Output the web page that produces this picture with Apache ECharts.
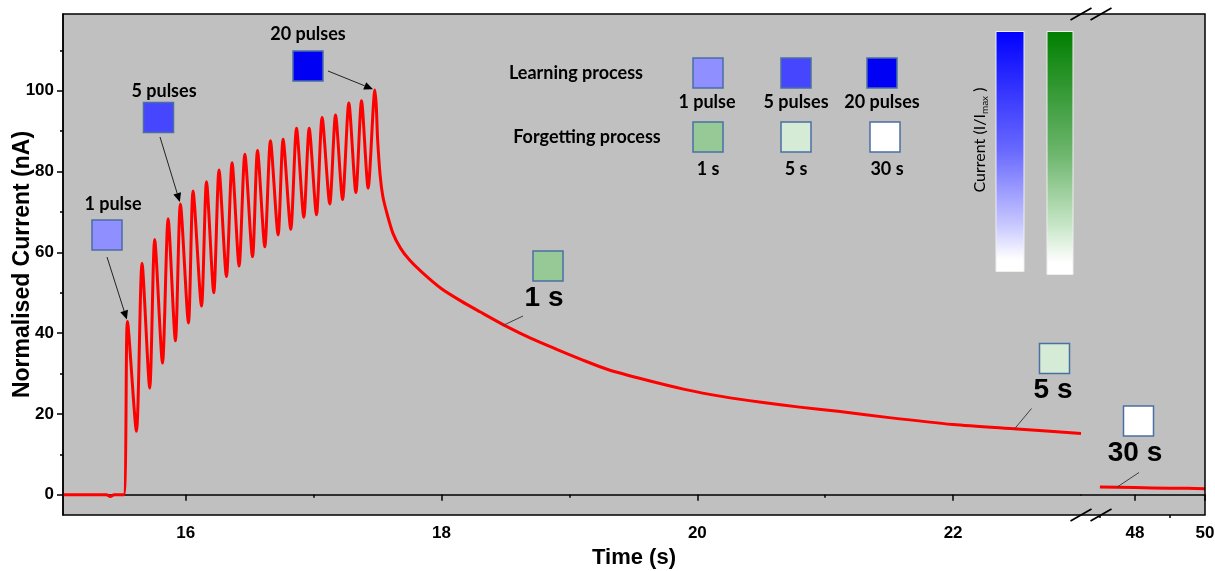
<!DOCTYPE html>
<html>
<head>
<meta charset="utf-8">
<script src="https://cdn.jsdelivr.net/npm/echarts@6/dist/echarts.min.js"></script>
<style>html,body{margin:0;padding:0;background:#fff}#c{width:1215px;height:571px}</style>
</head>
<body>
<div id="c"></div>
<script>
// ---------------- data ----------------
// learning phase: baseline, then 20 pulses (peak / trough alternation)
const learnTime = [15.04, 15.38, 15.41, 15.44, 15.515,
  15.544, 15.614, 15.658, 15.718, 15.757, 15.818, 15.862, 15.919, 15.958, 16.021,
  16.057, 16.123, 16.162, 16.219, 16.26, 16.318, 16.362, 16.417, 16.462, 16.522,
  16.561, 16.618, 16.662, 16.722, 16.761, 16.821, 16.866, 16.923, 16.965, 17.022,
  17.066, 17.126, 17.171, 17.226, 17.275, 17.33, 17.374, 17.426, 17.479];
const learnCurrent = [0, 0, -0.4, 0, 0,
  42.9, 15.7, 57.3, 26.4, 63.2, 32.6, 68.3, 38.1, 72.0, 42.5,
  75.2, 46.7, 77.5, 50.0, 80.4, 54.0, 82.2, 56.6, 84.3, 58.9,
  85.2, 61.4, 87.6, 64.3, 88.0, 65.7, 90.7, 68.7, 90.7, 69.3,
  93.4, 72.0, 94.0, 73.1, 97.0, 74.8, 97.5, 75.9, 100.2];
// forgetting phase (decay)
const decayTime = [17.49, 17.50, 17.52, 17.54, 17.57, 17.62, 17.68, 17.75, 17.85, 18.0,
  18.15, 18.3, 18.5, 18.7, 18.9, 19.1, 19.3, 19.6, 19.9, 20.2,
  20.5, 20.8, 21.1, 21.5, 22.0, 22.5, 23.0];
const decayCurrent = [96, 88, 79, 74, 70, 64.7, 61, 58.1, 55, 51,
  48, 45.3, 41.8, 38.7, 36.0, 33.4, 31.0, 28.4, 26.1, 24.3,
  22.9, 21.7, 20.7, 19.1, 17.4, 16.3, 15.2];
// late segment after the axis break
const lateTime = [47.0, 47.5, 48.0, 48.5, 49.0, 49.5, 50.0];
const lateCurrent = [1.9, 1.85, 1.8, 1.7, 1.65, 1.6, 1.5];

// ticks
const xTicksLeft = [16, 18, 20, 22];
const xMinorLeft = [17, 19, 21];
const xTicksRight = [48, 50];
const xMinorRight = [47, 49];
const yTicks = [0, 20, 40, 60, 80, 100];
const yMinor = [10, 30, 50, 70, 90, 110];

// annotation targets (time, current) on the curve
const pulseLabels = ['1 pulse', '5 pulses', '20 pulses'];
const pulseTargetTime = [15.544, 15.958, 17.479];
const pulseTargetCurrent = [42.9, 72.0, 100.2];
const forgetLabels = ['1 s', '5 s', '30 s'];
const forgetTargetTime = [18.48, 22.48, 47.48];
const forgetTargetCurrent = [41.9, 16.3, 1.85];

// legend
const learnLegend = ['1 pulse', '5 pulses', '20 pulses'];
const forgetLegend = ['1 s', '5 s', '30 s'];
const learnColors = ['#8f8fff', '#4646ff', '#0000f5'];
const forgetColors = ['#96c996', '#d5ebd5', '#ffffff'];

// ---------------- layout ----------------
const L = 63, T = 14, R = 1205, B = 515, BRK = 1081;
const FONT_AX = 'Liberation Sans, Arial, sans-serif';
const FONT_TX = 'Lato, "Open Sans", sans-serif';
const axisColor = '#000';

const chart = echarts.init(document.getElementById('c'), null, {renderer: 'canvas'});

function lineData(xs, ys) { return xs.map((x, i) => [x, ys[i]]); }

const tickLabel = {fontFamily: FONT_AX, fontWeight: 'bold', fontSize: 17, color: '#000', margin: 9};

chart.setOption({
  animation: false,
  backgroundColor: '#ffffff',
  grid: [
    {left: L, top: T, width: BRK - L, height: B - T, show: true, backgroundColor: '#c0c0c0', borderWidth: 0, containLabel: false, outerBoundsMode: 'none'},
    {left: BRK, top: T, width: R - BRK, height: B - T, show: true, backgroundColor: '#c0c0c0', borderWidth: 0, containLabel: false, outerBoundsMode: 'none'}
  ],
  xAxis: [
    {type: 'value', gridIndex: 0, position: 'bottom', min: 15.04, max: 23.0,
      axisLine: {show: true, lineStyle: {color: axisColor, width: 1.5}},
      axisTick: {show: true, customValues: xTicksLeft, length: 6, lineStyle: {color: axisColor, width: 1.5}},
      axisLabel: Object.assign({customValues: xTicksLeft}, tickLabel, {margin: 10}),
      splitLine: {show: false}},
    {type: 'value', gridIndex: 1, position: 'bottom', min: 46.46, max: 50,
      axisLine: {show: true, lineStyle: {color: axisColor, width: 1.5}},
      axisTick: {show: true, customValues: xTicksRight, length: 6, lineStyle: {color: axisColor, width: 1.5}},
      axisLabel: Object.assign({customValues: xTicksRight}, tickLabel, {margin: 10}),
      splitLine: {show: false}},
    {type: 'value', gridIndex: 0, position: 'bottom', offset: 0, min: 15.04, max: 23.0,
      axisLine: {show: false},
      axisTick: {show: true, customValues: xMinorLeft, length: 3, lineStyle: {color: axisColor, width: 1.5}},
      axisLabel: {show: false}, splitLine: {show: false}},
    {type: 'value', gridIndex: 1, position: 'bottom', offset: 0, min: 46.46, max: 50,
      axisLine: {show: false},
      axisTick: {show: true, customValues: xMinorRight, length: 3, lineStyle: {color: axisColor, width: 1.5}},
      axisLabel: {show: false}, splitLine: {show: false}}
  ],
  yAxis: [
    {type: 'value', gridIndex: 0, position: 'left', min: -5, max: 119,
      name: 'Normalised Current (nA)', nameLocation: 'middle', nameGap: 29, nameMoveOverlap: false,
      nameTextStyle: {fontFamily: FONT_AX, fontWeight: 'bold', fontSize: 23, color: '#000'},
      axisLine: {show: true, lineStyle: {color: axisColor, width: 1.5}},
      axisTick: {show: true, customValues: yTicks, length: 6, lineStyle: {color: axisColor, width: 1.5}},
      axisLabel: Object.assign({customValues: yTicks}, tickLabel),
      splitLine: {show: false}},
    {type: 'value', gridIndex: 0, position: 'left', offset: 0, min: -5, max: 119,
      axisLine: {show: false},
      axisTick: {show: true, customValues: yMinor, length: 3, lineStyle: {color: axisColor, width: 1.5}},
      axisLabel: {show: false}, splitLine: {show: false}},
    {type: 'value', gridIndex: 1, min: -5, max: 119, show: false}
  ],
  series: [
    {type: 'line', xAxisIndex: 0, yAxisIndex: 0, showSymbol: false, symbol: 'none', smooth: 0.25,
      data: lineData(learnTime.concat(decayTime), learnCurrent.concat(decayCurrent)),
      lineStyle: {color: '#ff0000', width: 3, join: 'round'}, z: 5},
    {type: 'line', xAxisIndex: 1, yAxisIndex: 2, showSymbol: false, symbol: 'none',
      data: lineData(lateTime, lateCurrent),
      lineStyle: {color: '#ff0000', width: 3, join: 'round'}, z: 5}
  ]
});

// ---------------- annotations ----------------
function px(grid, x, y) { return chart.convertToPixel({gridIndex: grid}, [x, y]); }

function arrow(x1, y1, x2, y2) {
  const a = Math.atan2(y2 - y1, x2 - x1);
  const hl = 9, hw = 4;
  const bx = x2 - hl * Math.cos(a), by = y2 - hl * Math.sin(a);
  return [
    {type: 'line', z: 20, shape: {x1: x1, y1: y1, x2: bx, y2: by}, style: {stroke: '#222', lineWidth: 1}},
    {type: 'polygon', z: 20, shape: {points: [[x2, y2], [bx + hw * Math.sin(a), by - hw * Math.cos(a)], [bx - hw * Math.sin(a), by + hw * Math.cos(a)]]}, style: {fill: '#000'}}
  ];
}
function box(x, y, color) {
  return {type: 'rect', z: 20, shape: {x: x, y: y, width: 30, height: 30}, style: {fill: color, stroke: '#4a6fa5', lineWidth: 1.5}};
}
function txt(x, y, s, size, family, weight, extra) {
  return Object.assign({type: 'text', z: 20, x: x, y: y,
    style: {text: s, fontSize: size, fontFamily: family, fontWeight: weight, fill: '#000', align: 'center', verticalAlign: 'middle'}}, extra || {});
}

const g = [];
// frame
g.push({type: 'rect', z: 15, shape: {x: L, y: T, width: R - L, height: B - T}, style: {fill: 'none', stroke: '#000', lineWidth: 1.5}});
// break marks
[[BRK, T], [BRK + 20, T], [BRK, B], [BRK + 20, B]].forEach(p => {
  g.push({type: 'line', z: 16, shape: {x1: p[0] - 10.5, y1: p[1] + 6, x2: p[0] + 10.5, y2: p[1] - 6}, style: {stroke: '#000', lineWidth: 1.8}});
});

// pulse annotations (box, label, arrow)
const pulseBoxPos = [[92, 220], [143.5, 102.5], [293, 51]];
const pulseTextPos = [[113, 204], [164, 91], [308, 34]];
const pulseArrowStart = [[107, 257], [160, 137], [328, 71]];
pulseLabels.forEach((s, i) => {
  g.push(box(pulseBoxPos[i][0], pulseBoxPos[i][1], learnColors[i]));
  g.push(txt(pulseTextPos[i][0], pulseTextPos[i][1], s, 18, FONT_TX, 'bold'));
  const tp = px(0, pulseTargetTime[i], pulseTargetCurrent[i]);
  const s0 = pulseArrowStart[i];
  const a = Math.atan2(tp[1] - s0[1], tp[0] - s0[0]);
  g.push(...arrow(s0[0], s0[1], tp[0] - 2 * Math.cos(a), tp[1] - 2 * Math.sin(a)));
});

// forgetting annotations (box, big label, leader line)
const forgetBoxPos = [[533, 251], [1039.5, 343.5], [1123.5, 406]];
const forgetTextPos = [[544, 298], [1053, 390], [1135, 453]];
const forgetLineStart = [[523, 316], [1031.5, 408.5], [1139, 472.5]];
const forgetGrid = [0, 0, 1];
forgetLabels.forEach((s, i) => {
  g.push(box(forgetBoxPos[i][0], forgetBoxPos[i][1], forgetColors[i]));
  g.push(txt(forgetTextPos[i][0], forgetTextPos[i][1], s, 28, FONT_AX, 'bold'));
  const tp = px(forgetGrid[i], forgetTargetTime[i], forgetTargetCurrent[i]);
  g.push({type: 'line', z: 20, shape: {x1: forgetLineStart[i][0], y1: forgetLineStart[i][1], x2: tp[0], y2: tp[1]}, style: {stroke: '#404040', lineWidth: 1}});
});

// legend
g.push(txt(576, 73, 'Learning process', 18, FONT_TX, 'bold'));
g.push(txt(587, 137, 'Forgetting process', 18, FONT_TX, 'bold'));
const legX = [693, 781, 867];
const legLabelX = [707, 796, 882];
learnLegend.forEach((s, i) => {
  g.push(box(legX[i], 58, learnColors[i]));
  g.push(txt(legLabelX[i], 102, s, 18, FONT_TX, 'bold'));
});
const legX2 = [693, 781, 870];
const legLabelX2 = [708, 796, 887];
forgetLegend.forEach((s, i) => {
  g.push(box(legX2[i], 122, forgetColors[i]));
  g.push(txt(legLabelX2[i], 169, s, 18, FONT_TX, 'bold'));
});

// colour bars
g.push({type: 'rect', z: 20, shape: {x: 996, y: 31.5, width: 28, height: 240},
  style: {stroke: '#eeeeee', lineWidth: 1, fill: {type: 'linear', x: 0, y: 0, x2: 0, y2: 1,
    colorStops: [{offset: 0, color: '#0000ff'}, {offset: 0.5, color: '#6a6aff'}, {offset: 0.8, color: '#c6c6ff'}, {offset: 0.95, color: '#ffffff'}, {offset: 1, color: '#ffffff'}]}}});
g.push({type: 'rect', z: 20, shape: {x: 1047, y: 31.5, width: 26, height: 243},
  style: {stroke: '#eeeeee', lineWidth: 1, fill: {type: 'linear', x: 0, y: 0, x2: 0, y2: 1,
    colorStops: [{offset: 0, color: '#007f00'}, {offset: 0.5, color: '#6cb56c'}, {offset: 0.8, color: '#c8e6c8'}, {offset: 0.95, color: '#ffffff'}, {offset: 1, color: '#ffffff'}]}}});
g.push({type: 'text', z: 20, x: 980, y: 140, rotation: Math.PI / 2,
  style: {text: '{a|Current (I/I}{b|max}{a| )}', align: 'center', verticalAlign: 'middle',
    rich: {a: {fontSize: 16, fontFamily: FONT_TX, fill: '#000', lineHeight: 19},
           b: {fontSize: 10, fontFamily: FONT_TX, fill: '#000', lineHeight: 10, verticalAlign: 'bottom'}}}});

// x axis title
g.push(txt((L + R) / 2, 558, 'Time (s)', 22, FONT_AX, 'bold'));

chart.setOption({graphic: g});
</script>
</body>
</html>
